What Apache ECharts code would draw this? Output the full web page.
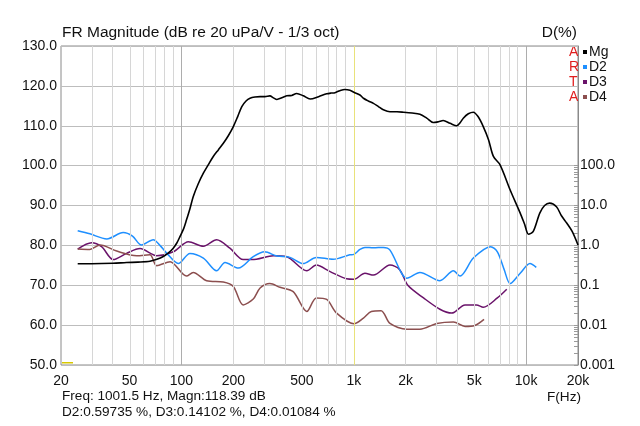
<!DOCTYPE html>
<html><head><meta charset="utf-8">
<script src="https://cdn.jsdelivr.net/npm/echarts@6/dist/echarts.min.js"></script>
<style>html,body{margin:0;padding:0;background:#fff}#c{width:640px;height:426px}</style>
</head><body><div id="c"></div>
<script>
// ---- data ----
const mgFreq = [25,30,40,48,56,65.6,72,78.4,84,89.6,94,98,103,107,112,117,125,134,143,153,164,175,187,200,212,224,237,250,267,286,305,326,342,358,382,408,436,466,510,558,625,696,738,778,830,888,950,1001.5,1086,1138,1215,1300,1390,1484,1622,1780,1938,2180,2420,2650,2890,3100,3300,3620,3960,4150,4320,4620,4940,5260,5640,6050,6460,7060,8080,9240,9800,10320,11000,12000,12800,13700,15000,16000,17200,18500,20000];
const mgDb = [75.4,75.4,75.5,75.7,75.8,76.0,76.5,77.2,78.1,79.3,80.6,82.2,84.2,86.4,89.2,92.2,95.4,98.1,100.2,102.3,104.0,105.6,107.5,109.8,112.3,114.8,116.2,116.9,117.2,117.3,117.3,117.5,117.0,116.6,117.0,117.5,117.6,118.1,117.5,116.7,117.3,118.0,118.2,118.3,118.8,119.1,118.9,118.4,117.7,116.9,116.2,115.6,114.8,114.0,113.5,113.5,113.4,113.2,112.9,111.9,110.8,111.0,111.3,110.6,110.0,110.8,111.9,113.0,113.4,112.3,109.8,106.5,102.3,100.2,93.9,88.1,85.3,82.8,83.5,88.1,90.0,90.6,89.7,87.5,85.6,83.5,80.1];

const d2Freq = [25,29.4,36.9,45.9,52,58.6,68.6,75,82.3,95.9,112,134,160,179,214,261,304,358,426,508,606,760,948,1001.5,1086,1161,1300,1484,1622,1895,2030,2420,3160,3785,4140,4940,6220,6810,7450,8080,9240,10530,11450];
const d2Pct = [2.34,1.95,1.45,2.09,1.7,1.02,1.38,1.0,0.63,0.35,0.63,0.48,0.23,0.37,0.27,0.52,0.69,0.54,0.50,0.35,0.50,0.45,0.58,0.597,0.79,0.89,0.87,0.89,0.76,0.20,0.15,0.21,0.13,0.23,0.17,0.48,0.93,0.69,0.25,0.11,0.20,0.35,0.28];

const d3Freq = [25,30.1,34.4,40.2,48,57.5,71.8,89.6,109.8,134,160,191,228,272,341,408,534,606,729,908,1001.5,1161,1300,1622,1840,2065,2540,3160,3700,4420,5150,5640,6810,7720];
const d3Pct = [0.81,1.17,0.93,0.44,0.63,0.83,0.55,0.69,1.23,0.95,1.38,0.85,0.44,0.45,0.55,0.52,0.23,0.32,0.22,0.145,0.141,0.20,0.18,0.32,0.25,0.098,0.048,0.025,0.020,0.032,0.032,0.028,0.048,0.079];

const d4Freq = [25,29.4,33.7,42.1,55,65.6,71.8,85.9,107,117,140,175,200,228,261,286,326,373,445,534,606,696,795,1001.5,1138,1264,1440,1622,2030,2420,3030,3785,4420,5030,5700];
const d4Pct = [0.81,0.79,1.02,0.72,0.55,0.58,0.31,0.39,0.17,0.21,0.13,0.12,0.093,0.032,0.045,0.085,0.11,0.089,0.069,0.022,0.048,0.044,0.020,0.01084,0.015,0.022,0.023,0.011,0.0079,0.0079,0.011,0.012,0.0093,0.0098,0.014];

const xTickHz = [20,50,100,200,500,1000,2000,5000,10000,20000];
const xTickLabels = ['20','50','100','200','500','1k','2k','5k','10k','20k'];
const xGridHz = [30,40,50,60,70,80,90,100,200,300,400,500,600,700,800,900,1000,2000,3000,4000,5000,6000,7000,8000,9000,10000];
const yLeftTicks = [50,60,70,80,90,100,110,120,130];
const yRightTicks = [0.001,0.01,0.1,1,10,100];
const yRightLabels = ['0.001','0.01','0.1','1.0','10.0','100.0'];
const seriesNames = ['Mg','D2','D3','D4'];
const cursorHz = 1001.5;
const titleText = 'FR Magnitude (dB re 20 uPa/V - 1/3 oct)';
const infoLine1 = 'Freq: 1001.5 Hz, Magn:118.39 dB';
const infoLine2 = 'D2:0.59735 %, D3:0.14102 %, D4:0.01084 %';

// ---- build ----
const L = Math.log10;
const pairs = (fs, vs) => fs.map((f, i) => [L(f), vs[i]]);
const minorRight = [];
for (let e = -3; e < 2; e++) for (let k = 1; k <= 9; k++) minorRight.push(+(k * Math.pow(10, e)).toPrecision(3));
minorRight.push(100);

const FONT = '"Liberation Sans", Arial, sans-serif';
const gridMarks = xGridHz.map(f => ({
  xAxis: L(f),
  lineStyle: { color: (f === 100 || f === 1000 || f === 10000) ? '#adadad' : '#d6d6d6', width: 1, type: 'solid' }
}));
gridMarks.push({ xAxis: L(cursorHz), lineStyle: { color: '#e9e27a', width: 1, type: 'solid' } });

const colors = ['#000000', '#1e8fff', '#6a136a', '#8c4f4f'];
const chart = echarts.init(document.getElementById('c'), null, { renderer: 'canvas' });
chart.setOption({
  animation: false,
  textStyle: { fontFamily: FONT },
  grid: { left: 61, right: 62, top: 46, bottom: 61, show: true, borderColor: '#8a8a8a', borderWidth: 1, backgroundColor: 'transparent' },
  legend: {
    orient: 'vertical', left: 583, top: 45, padding: 0, itemGap: 1,
    itemWidth: 4, itemHeight: 4, icon: 'rect',
    textStyle: { fontFamily: FONT, fontSize: 14, color: '#111', padding: [0, 0, 0, -3], lineHeight: 14 },
    data: seriesNames
  },
  xAxis: {
    type: 'value', min: L(20), max: L(20000),
    axisLine: { show: false }, axisTick: { show: false }, splitLine: { show: false },
    axisLabel: {
      customValues: xTickHz.map(L), margin: 9, fontSize: 14, color: '#111', fontFamily: FONT,
      formatter: v => { const i = xTickHz.findIndex(f => Math.abs(L(f) - v) < 1e-6); return i >= 0 ? xTickLabels[i] : ''; }
    }
  },
  yAxis: [
    {
      type: 'value', min: 50, max: 130, interval: 10,
      axisLine: { show: false }, axisTick: { show: false },
      splitLine: { show: true, lineStyle: { color: '#bdbdbd', width: 1 } },
      axisLabel: { margin: 4, fontSize: 14, color: '#111', fontFamily: FONT, formatter: v => v.toFixed(1) }
    },
    {
      type: 'log', logBase: 10, min: 0.001, max: 100000, position: 'right',
      axisLine: { show: true, lineStyle: { color: '#8a8a8a' } },
      axisTick: { show: true, inside: true, length: 4, customValues: minorRight, lineStyle: { color: '#9a9a9a' } },
      splitLine: { show: false },
      axisLabel: {
        customValues: yRightTicks, margin: 2, fontSize: 14, color: '#111', fontFamily: FONT,
        formatter: v => { const i = yRightTicks.findIndex(t => Math.abs(t - v) / t < 1e-6); return i >= 0 ? yRightLabels[i] : ''; }
      }
    }
  ],
  series: [
    { name: 'grid', type: 'line', data: [], z: 1, silent: true,
      markLine: { silent: true, symbol: 'none', label: { show: false }, animation: false, data: gridMarks } },
    { name: 'Mg', type: 'line', yAxisIndex: 0, data: pairs(mgFreq, mgDb), showSymbol: false, smooth: 0.3, color: colors[0], lineStyle: { width: 1.6 }, z: 5 },
    { name: 'D2', type: 'line', yAxisIndex: 1, data: pairs(d2Freq, d2Pct), showSymbol: false, smooth: 0.3, color: colors[1], lineStyle: { width: 1.5 }, z: 4 },
    { name: 'D3', type: 'line', yAxisIndex: 1, data: pairs(d3Freq, d3Pct), showSymbol: false, smooth: 0.3, color: colors[2], lineStyle: { width: 1.5 }, z: 3 },
    { name: 'D4', type: 'line', yAxisIndex: 1, data: pairs(d4Freq, d4Pct), showSymbol: false, smooth: 0.3, color: colors[3], lineStyle: { width: 1.5 }, z: 3 }
  ],
  graphic: [
    { type: 'text', left: 62, top: 25, style: { text: titleText, font: '15.5px ' + FONT, fill: '#111' } },
    { type: 'text', right: 63, top: 25, style: { text: 'D(%)', font: '15.5px ' + FONT, fill: '#111' } },
    { type: 'text', left: 569, top: 45, style: { text: 'A\nR\nT\nA', font: '14px ' + FONT, fill: '#e01e1e', lineHeight: 15 } },
    { type: 'text', left: 62, top: 389, style: { text: infoLine1, font: '13.6px ' + FONT, fill: '#111' } },
    { type: 'text', left: 62, top: 405, style: { text: infoLine2, font: '13.6px ' + FONT, fill: '#111' } },
    { type: 'text', left: 547, top: 390, style: { text: 'F(Hz)', font: '13.6px ' + FONT, fill: '#111' } },
    { type: 'rect', left: 62, top: 362, shape: { width: 11, height: 1.5 }, style: { fill: '#d8c800' } }
  ]
});
</script>
</body></html>
